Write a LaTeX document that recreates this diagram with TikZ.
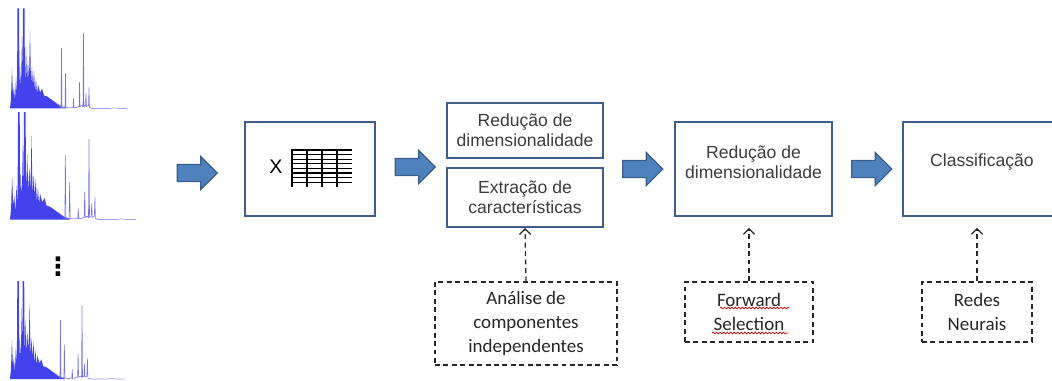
\documentclass[tikz,border=0pt]{standalone}
\usepackage{fontspec}
\setmainfont{Liberation Sans}
\newfontfamily\calibri{Carlito}
\newfontfamily\dejavu{DejaVu Sans}
\usetikzlibrary{shapes.arrows,arrows.meta,decorations.pathmorphing}

\definecolor{borda}{RGB}{64,94,136}
\definecolor{setacor}{RGB}{79,129,189}
\definecolor{setaborda}{RGB}{56,93,138}
\definecolor{texto}{RGB}{60,60,60}
\definecolor{espforte}{RGB}{45,45,235}
\definecolor{espmedio}{RGB}{115,115,235}
\definecolor{espfraco}{RGB}{160,160,238}

\begin{document}
\begin{tikzpicture}[x=0.025cm,y=-0.025cm,
	caixa/.style={draw=borda,line width=1.4pt,inner sep=0pt,align=center,text=texto,font=\fontsize{12.5}{14.5}\selectfont},
	caixatrac/.style={draw=black!85,dash pattern=on 3.5pt off 2.5pt,line width=0.9pt,inner sep=0pt,align=center,text=black!85,font=\calibri\fontsize{13.5}{17}\selectfont},
	seta/.style={single arrow,draw=setaborda,fill=setacor,line width=0.8pt,minimum height=1cm,inner sep=0.2cm,single arrow head extend=0.2cm},
	setatrac/.style={draw=black!85,dash pattern=on 3.5pt off 2.5pt,line width=0.9pt,-{Straight Barb[length=4pt,width=8pt]}},
	ondulado/.style={red!80!black,line width=0.5pt,decorate,decoration={snake,amplitude=0.6pt,segment length=2.5pt}}]
	\useasboundingbox (0,0) rectangle (1052,381);
	\clip (0,0) rectangle (1052,381);

	% Espectros
	\foreach \sx/\sy/\esc in {10/8.5/1, 10/112/1.075, 10/281/0.98} {
		\begin{scope}[shift={(\sx,\sy)},scale=\esc]
			\fill[espforte,fill opacity=0.9] (0,100) -- (1,90) -- (2,60) -- (3,88) -- (4,78) -- (5,93) -- (6,68) -- (7,86)
				-- (7.5,0) -- (9,0) -- (9.5,84) -- (10,58) -- (11,80) -- (12,28) -- (12.5,76)
				-- (13,0) -- (14.5,0) -- (15,78) -- (16,38) -- (17,74) -- (18,52) -- (19,72) -- (20,22)
				-- (21,76) -- (22,58) -- (23,78) -- (24,62) -- (25,84) -- (26,70) -- (27,86) -- (28,76)
				-- (30,84) -- (32,80) -- (34,87) -- (37,88) -- (40,90) -- (44,93) -- (48,96) -- (52,98)
				-- (56,99.5) -- (56,100) -- cycle;
			\draw[espmedio,line width=0.4pt] (44,93) -- (48,96) -- (50,98) -- (51,99) -- (51.5,40) -- (52,99)
				-- (55,99) -- (55.5,65) -- (56,99) -- (60,99.5) -- (63,99) -- (63.5,90) -- (64,99.5)
				-- (66,99) -- (69,98) -- (69.5,74) -- (70,98) -- (72,97) -- (73,98) -- (73.5,25) -- (74,98)
				-- (75.5,97) -- (76,85) -- (76.5,98) -- (78.5,97) -- (79,79) -- (79.5,99) -- (82,100);
			\draw[espfraco,line width=0.4pt] (82,100) -- (100,100) -- (104,99.3) -- (108,100) -- (117,100);
		\end{scope}
	}
	\node[inner sep=0pt,font=\dejavu\bfseries\fontsize{18}{18}\selectfont] (pontos) at (58,267) {⋮};

	% Matriz X
	\node[caixa,minimum width=3.25cm,minimum height=2.35cm] (matriz) at (310,169) {};
	\node[text=black,font=\fontsize{14}{14}\selectfont] (xis) at (276,167) {X};
	\foreach \i in {0,...,7}
		\draw[line width=0.8pt] (292,{150+4.6*\i}) -- (352,{150+4.6*\i});
	\foreach \x in {292,307,322,337}
		\draw[line width=0.8pt] (\x,149) -- (\x,187);

	% Caixas
	\node[caixa,minimum width=3.9cm,minimum height=1.375cm] (red1) at (525,130.5) {Redução de\\dimensionalidade};
	\node[caixa,minimum width=3.9cm,minimum height=1.475cm] (extr) at (525,197.5) {Extração de\\características};
	\node[caixa,minimum width=3.925cm,minimum height=2.35cm] (red2) at (753.5,169) {};
	\node[text=texto,align=center,font=\fontsize{12.5}{14.5}\selectfont] (red2txt) at (753.5,162) {Redução de\\dimensionalidade};
	\node[caixa,minimum width=3.95cm,minimum height=2.35cm] (classif) at (982,169) {};
	\node[text=texto,font=\fontsize{12.5}{14.5}\selectfont] (classiftxt) at (982,162) {Classificação};

	% Setas
	\node[seta] (s1) at (193,173) {};
	\node[seta] (s2) at (411,167) {};
	\node[seta] (s3) at (638.5,169) {};
	\node[seta] (s4) at (867.5,169) {};

	% Metodos
	\node[caixatrac,minimum width=4.55cm,minimum height=2.075cm] (ica) at (526,323.5) {Análise de\\componentes\\independentes};
	\node[caixatrac,minimum width=3.2cm,minimum height=1.5cm] (fs) at (749,312) {Forward\\Selection};
	\node[caixatrac,minimum width=2.75cm,minimum height=1.5cm] (rn) at (977,312) {Redes\\Neurais};
	\draw[ondulado] ([shift={(-29,-4)}]fs.center) -- ([shift={(40,-4)}]fs.center);
	\draw[ondulado] ([shift={(-37,21)}]fs.center) -- ([shift={(39,21)}]fs.center);

	\draw[setatrac] (ica.north) -- (extr.south);
	\draw[setatrac,shorten >=0.27cm] (fs.north) -- (fs.north |- red2.south);
	\draw[setatrac,shorten >=0.27cm] (rn.north) -- (rn.north |- classif.south);

\end{tikzpicture}
\end{document}
